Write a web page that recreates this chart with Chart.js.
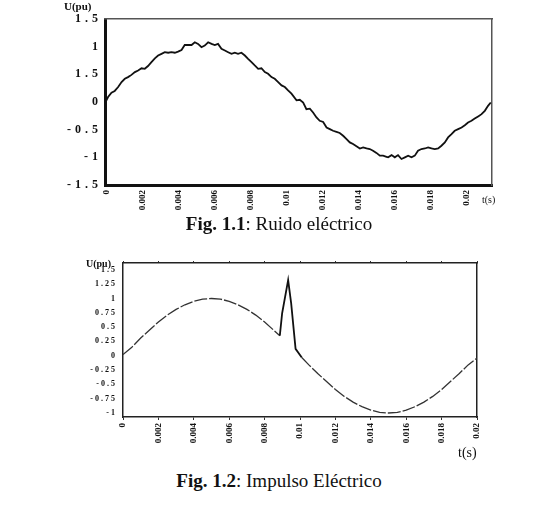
<!DOCTYPE html>
<html lang="es">
<head>
<meta charset="UTF-8">
<title>Ruido e impulso eléctrico</title>
<script src="https://cdn.jsdelivr.net/npm/chart.js"></script>
<style>
  body { margin:0; background:#fff; width:552px; height:514px; position:relative; overflow:hidden; font-family:"Liberation Serif", serif; color:#111; }
  .box { position:absolute; left:0; width:552px; }
  #box1 { top:0; height:225px; }
  #box2 { top:245px; height:205px; }
  .lbl { position:absolute; white-space:nowrap; line-height:1; }
  .cap { position:absolute; left:3px; width:552px; text-align:center; font-size:19px; line-height:1.2; }
</style>
</head>
<body>
<div class="box" id="box1"><canvas id="chart1"></canvas></div>
<div class="box" id="box2"><canvas id="chart2"></canvas></div>

<div class="lbl" style="left:64px; top:1px; font-size:11px; font-weight:bold;">U(pu)</div>
<div class="lbl" style="left:482px; top:195px; font-size:10px;">t(s)</div>
<div class="cap" style="top:213px;"><b>Fig. 1.1</b>: Ruido eléctrico</div>

<div class="lbl" style="left:86px; top:259px; font-size:10px; font-weight:bold;">U(pu)</div>
<div class="lbl" style="left:458px; top:446px; font-size:14px;">t(s)</div>
<div class="cap" style="top:470px;"><b>Fig. 1.2</b>: Impulso Eléctrico</div>

<script>
// Fig. 1.1: tension con ruido (t en s, U en pu)
const noiseT = [-0.0001, 0.00007, 0.00026, 0.00044, 0.00063, 0.00082, 0.00100, 0.00118, 0.00137, 0.00156,
  0.00174, 0.00193, 0.00211, 0.00229, 0.00248, 0.00267, 0.00285, 0.00304, 0.00322, 0.00341,
  0.00359, 0.00378, 0.00396, 0.00415, 0.00433, 0.00452, 0.00471, 0.00489, 0.00507, 0.00526,
  0.00544, 0.00563, 0.00582, 0.00600, 0.00618, 0.00637, 0.00656, 0.00674, 0.00693, 0.00711,
  0.00729, 0.00748, 0.00767, 0.00785, 0.00804, 0.00822, 0.00841, 0.00859, 0.00878, 0.00896,
  0.00915, 0.00933, 0.00952, 0.00971, 0.00989, 0.01007, 0.01026, 0.01054, 0.01072, 0.01091,
  0.01109, 0.01128, 0.01146, 0.01165, 0.01183, 0.01202, 0.01221, 0.01239, 0.01257, 0.01276,
  0.01294, 0.01313, 0.01332, 0.01350, 0.01368, 0.01387, 0.01406, 0.01424, 0.01443, 0.01461,
  0.01479, 0.01498, 0.01517, 0.01535, 0.01554, 0.01563, 0.01582, 0.01600, 0.01618, 0.01637,
  0.01656, 0.01674, 0.01693, 0.01711, 0.01729, 0.01748, 0.01767, 0.01785, 0.01804, 0.01822,
  0.01841, 0.01859, 0.01878, 0.01896, 0.01915, 0.01933, 0.01952, 0.01971, 0.01989, 0.02007,
  0.02026, 0.02044, 0.02063, 0.02082, 0.02100, 0.02118, 0.02133];
const noiseU = [-0.02, 0.09, 0.17, 0.20, 0.27, 0.36, 0.42, 0.45, 0.49, 0.54,
  0.57, 0.61, 0.60, 0.65, 0.72, 0.79, 0.84, 0.87, 0.90, 0.89,
  0.90, 0.89, 0.91, 0.94, 1.03, 1.03, 1.03, 1.08, 1.05, 0.99,
  1.02, 1.08, 1.05, 1.03, 1.05, 0.96, 0.93, 0.90, 0.87, 0.89,
  0.87, 0.89, 0.84, 0.78, 0.72, 0.66, 0.60, 0.61, 0.54, 0.51,
  0.45, 0.42, 0.36, 0.30, 0.27, 0.21, 0.15, 0.03, 0.04, -0.01,
  -0.13, -0.12, -0.19, -0.28, -0.34, -0.36, -0.46, -0.49, -0.52, -0.54,
  -0.56, -0.61, -0.67, -0.73, -0.76, -0.80, -0.84, -0.82, -0.84, -0.85,
  -0.88, -0.92, -0.97, -0.97, -0.99, -1.00, -0.96, -1.00, -0.96, -1.03,
  -1.00, -0.97, -1.00, -0.97, -0.88, -0.85, -0.84, -0.82, -0.84, -0.85,
  -0.84, -0.79, -0.73, -0.64, -0.58, -0.52, -0.49, -0.46, -0.42, -0.37,
  -0.34, -0.30, -0.26, -0.22, -0.16, -0.07, -0.01];

// Fig. 1.2: senoide con impulso
const impT = [0, 0.0005, 0.001, 0.0015, 0.002, 0.0025, 0.003, 0.0035, 0.004, 0.0045,
  0.005, 0.0055, 0.006, 0.0065, 0.007, 0.0075, 0.008, 0.0085, 0.00886, 0.00899,
  0.00933, 0.0095, 0.00975, 0.0101, 0.0105, 0.011, 0.0115, 0.012, 0.0125, 0.013,
  0.0135, 0.014, 0.0145, 0.015, 0.0155, 0.016, 0.0165, 0.017, 0.0175, 0.018,
  0.0185, 0.019, 0.0195, 0.02];
const impU = [0.02, 0.15, 0.31, 0.45, 0.59, 0.71, 0.81, 0.89, 0.95, 0.99,
  1.0, 0.99, 0.95, 0.89, 0.81, 0.71, 0.59, 0.45, 0.35, 0.74,
  1.32, 0.92, 0.12, -0.03, -0.16, -0.31, -0.45, -0.59, -0.71, -0.81,
  -0.89, -0.95, -0.99, -1.0, -0.99, -0.95, -0.89, -0.81, -0.71, -0.59,
  -0.45, -0.31, -0.16, -0.04];

const xTicks = [0, 0.002, 0.004, 0.006, 0.008, 0.01, 0.012, 0.014, 0.016, 0.018, 0.02];
const xLabels = ['0', '0.002', '0.004', '0.006', '0.008', '0.01', '0.012', '0.014', '0.016', '0.018', '0.02'];
const yTicks1 = [-1.5, -1, -0.5, 0, 0.5, 1, 1.5];
const yLabels1 = ['-1.5', '-1', '-0.5', '0', '1.5', '1', '1.5'];
const yTicks2 = [-1, -0.75, -0.5, -0.25, 0, 0.25, 0.5, 0.75, 1, 1.25, 1.5];
const yLabels2 = ['-1', '-0.75', '-0.5', '-0.25', '0', '0.25', '0.5', '0.75', '1', '1.25', '1.5'];

const setTicks = list => s => { s.ticks = list.map(v => ({ value: v })); };
const fixW = w => s => { s.width = w; };
const fixH = h => s => { s.height = h; };

// y tick labels sit on layer z:1 (after datasets), so letter spacing only hits them
const spacedTicks = {
  id: 'spacedTicks',
  defaults: { px: 0 },
  afterDatasetsDraw(chart, args, opts) { chart.ctx.letterSpacing = opts.px + 'px'; },
  afterDraw(chart) { chart.ctx.letterSpacing = '0px'; }
};

const serif = 'Liberation Serif';
const inSpike = c => c.p0.parsed.x >= 0.0088 && c.p1.parsed.x <= 0.0101;

new Chart(document.getElementById('chart1'), {
  type: 'line',
  data: {
    datasets: [{
      data: noiseT.map((t, i) => ({ x: t, y: noiseU[i] })),
      borderColor: '#111', borderWidth: 1.8, pointRadius: 0, tension: 0
    }]
  },
  plugins: [spacedTicks],
  options: {
    responsive: true, maintainAspectRatio: false, animation: false,
    layout: { padding: { left: 65, right: 60, top: 19, bottom: 10 } },
    plugins: { legend: { display: false }, tooltip: { enabled: false }, spacedTicks: { px: 4 } },
    scales: {
      x: {
        type: 'linear', min: -0.0001, max: 0.0214, bounds: 'data',
        afterBuildTicks: setTicks(xTicks), afterFit: fixH(30),
        grid: { display: false, drawTicks: false },
        border: { color: '#111', width: 3 },
        ticks: { autoSkip: false, minRotation: 90, maxRotation: 90, padding: 5, color: '#111',
          font: { family: serif, size: 9, weight: 'bold' }, callback: (v, i) => xLabels[i] }
      },
      y: {
        min: -1.5, max: 1.5, bounds: 'data',
        afterBuildTicks: setTicks(yTicks1), afterFit: fixW(40),
        grid: { display: false, drawTicks: false },
        border: { color: '#111', width: 3 },
        ticks: { z: 1, padding: 3, color: '#111',
          font: { family: serif, size: 12, weight: 'bold' }, callback: (v, i) => yLabels1[i] }
      },
      x2: {
        type: 'linear', position: 'top', min: -0.0001, max: 0.0214, afterFit: fixH(0),
        grid: { display: false, drawTicks: false }, ticks: { display: false },
        border: { color: '#555', width: 1.5 }
      },
      y2: {
        position: 'right', min: -1.5, max: 1.5, afterFit: fixW(0),
        grid: { display: false, drawTicks: false }, ticks: { display: false },
        border: { color: '#555', width: 1.5 }
      }
    }
  }
});

new Chart(document.getElementById('chart2'), {
  type: 'line',
  data: {
    datasets: [{
      data: impT.map((t, i) => ({ x: t, y: impU[i] })),
      borderColor: '#333', borderWidth: 1.3, pointRadius: 0, tension: 0,
      segment: {
        borderDash: c => inSpike(c) ? [] : [13, 2],
        borderWidth: c => inSpike(c) ? 1.8 : 1.3,
        borderColor: c => inSpike(c) ? '#111' : '#333'
      }
    }]
  },
  plugins: [spacedTicks],
  options: {
    responsive: true, maintainAspectRatio: false, animation: false,
    layout: { padding: { left: 83, right: 75, top: 18, bottom: 3 } },
    plugins: { legend: { display: false }, tooltip: { enabled: false }, spacedTicks: { px: 2 } },
    scales: {
      x: {
        type: 'linear', min: 0, max: 0.02, bounds: 'data',
        afterBuildTicks: setTicks(xTicks), afterFit: fixH(30),
        grid: { display: true, drawOnChartArea: false, drawTicks: true, tickLength: 3, color: '#333' },
        border: { color: '#222', width: 1.5 },
        ticks: { autoSkip: false, minRotation: 90, maxRotation: 90, padding: 3, color: '#111',
          font: { family: serif, size: 9, weight: 'bold' }, callback: (v, i) => xLabels[i] }
      },
      y: {
        min: -1.07, max: 1.62, bounds: 'data',
        afterBuildTicks: setTicks(yTicks2), afterFit: fixW(40),
        grid: { display: false, drawTicks: false },
        border: { color: '#222', width: 1.5 },
        ticks: { z: 1, padding: 6, color: '#111',
          font: { family: serif, size: 8, weight: 'bold' }, callback: (v, i) => yLabels2[i] }
      },
      x2: {
        type: 'linear', position: 'top', min: 0, max: 0.02, bounds: 'data',
        afterBuildTicks: setTicks(xTicks), afterFit: fixH(0),
        grid: { display: true, drawOnChartArea: false, drawTicks: true, tickLength: 2, color: '#333' },
        ticks: { display: false },
        border: { color: '#222', width: 1.5 }
      },
      y2: {
        position: 'right', min: -1.07, max: 1.62, afterFit: fixW(0),
        grid: { display: false, drawTicks: false }, ticks: { display: false },
        border: { color: '#222', width: 1.5 }
      }
    }
  }
});
</script>
</body>
</html>
